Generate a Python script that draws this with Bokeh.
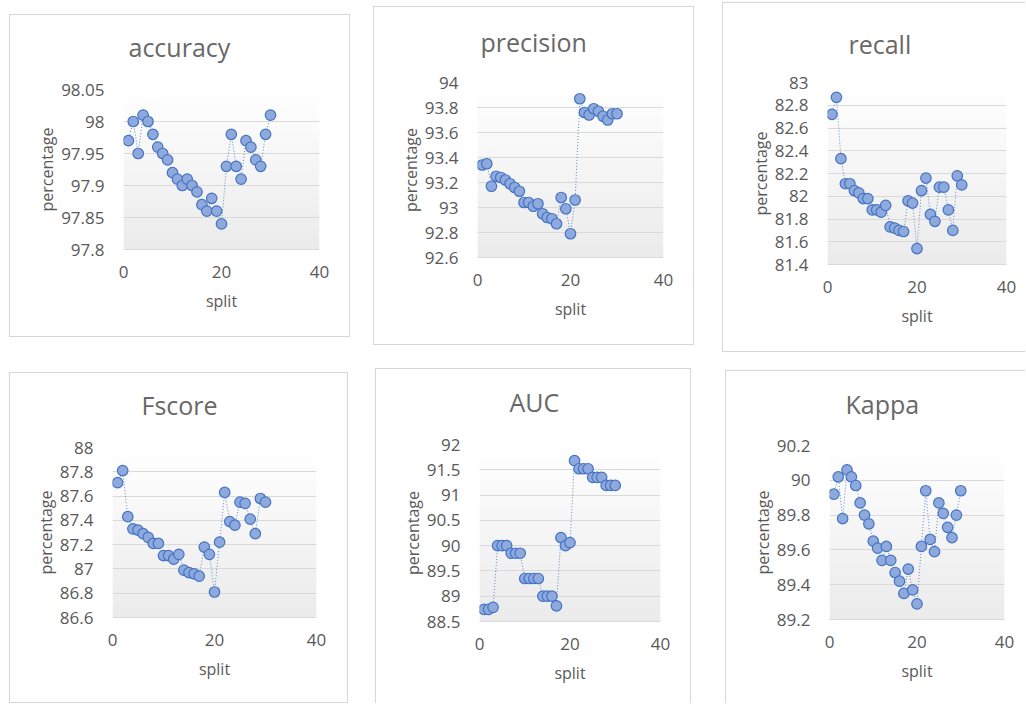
import numpy as np
from bokeh.plotting import figure
from bokeh.layouts import row, column, Spacer
from bokeh.models import Range1d, FixedTicker, CustomJSTickFormatter
from bokeh.embed import file_html
from bokeh.resources import INLINE

# ---------------- data ----------------
split = [1, 2, 3, 4, 5, 6, 7, 8, 9, 10, 11, 12, 13, 14, 15,
         16, 17, 18, 19, 20, 21, 22, 23, 24, 25, 26, 27, 28, 29, 30]

accuracy = [97.97, 98.00, 97.95, 98.01, 98.00, 97.98, 97.96, 97.95, 97.94, 97.92,
            97.91, 97.90, 97.91, 97.90, 97.89, 97.87, 97.86, 97.88, 97.86, 97.84,
            97.93, 97.98, 97.93, 97.91, 97.97, 97.96, 97.94, 97.93, 97.98, 98.01]
precision = [93.34, 93.35, 93.17, 93.25, 93.24, 93.22, 93.19, 93.16, 93.13, 93.04,
             93.04, 93.01, 93.03, 92.95, 92.92, 92.91, 92.87, 93.08, 92.99, 92.79,
             93.06, 93.87, 93.76, 93.74, 93.79, 93.77, 93.73, 93.70, 93.75, 93.75]
recall = [82.72, 82.87, 82.33, 82.11, 82.11, 82.05, 82.03, 81.98, 81.98, 81.88,
          81.88, 81.86, 81.92, 81.73, 81.72, 81.70, 81.69, 81.96, 81.94, 81.54,
          82.05, 82.16, 81.84, 81.78, 82.08, 82.08, 81.88, 81.70, 82.18, 82.10]
fscore = [87.71, 87.81, 87.43, 87.33, 87.32, 87.29, 87.26, 87.21, 87.21, 87.11,
          87.11, 87.08, 87.12, 86.99, 86.97, 86.96, 86.94, 87.18, 87.12, 86.81,
          87.22, 87.63, 87.39, 87.36, 87.55, 87.54, 87.41, 87.29, 87.58, 87.55]
auc = [88.74, 88.74, 88.78, 90.00, 90.00, 90.00, 89.85, 89.85, 89.85, 89.35,
       89.35, 89.35, 89.35, 89.00, 89.00, 89.00, 88.81, 90.16, 90.00, 90.06,
       91.68, 91.52, 91.52, 91.52, 91.35, 91.35, 91.35, 91.19, 91.19, 91.19]
kappa = [89.92, 90.02, 89.78, 90.06, 90.02, 89.97, 89.87, 89.80, 89.75, 89.65,
         89.61, 89.54, 89.62, 89.54, 89.47, 89.42, 89.35, 89.49, 89.37, 89.29,
         89.62, 89.94, 89.66, 89.59, 89.87, 89.81, 89.73, 89.67, 89.80, 89.94]

x_ticks = [0, 20, 40]
acc_ticks = [97.8, 97.85, 97.9, 97.95, 98.0, 98.05]
prec_ticks = [92.6, 92.8, 93.0, 93.2, 93.4, 93.6, 93.8, 94.0]
rec_ticks = [81.4, 81.6, 81.8, 82.0, 82.2, 82.4, 82.6, 82.8, 83.0]
f_ticks = [86.6, 86.8, 87.0, 87.2, 87.4, 87.6, 87.8, 88.0]
auc_ticks = [88.5, 89.0, 89.5, 90.0, 90.5, 91.0, 91.5, 92.0]
kappa_ticks = [89.2, 89.4, 89.6, 89.8, 90.0, 90.2]

FONT = "Open Sans"
TXT = "#595959"
BORDER = "#d6d6d6"
TITLE_BOX = 38      # layout height of a 25px title text box (without standoff)
TITLE_K = 21        # distance from top of text box to visual centre of the title


def gradient_image():
    n = 64
    img = np.empty((n, 1), dtype=np.uint32)
    view = img.view(dtype=np.uint8).reshape((n, 1, 4))
    for i in range(n):
        t = i / (n - 1)          # 0 = bottom, 1 = top
        c = int(round(235 + (255 - 235) * t))
        view[i, 0, :] = [c, c, c, 255]
    return img


def panel(title, values, yticks, box, frame, tcx, tcy, row_top, sides):
    """box = (X, Y, W, bottom) of the chart box in page px,
    frame = (left, right, top, bottom) of the plot area in page px,
    tcx/tcy = page position of the title's centre."""
    X, Y, W, B = box
    fl, fr, ft, fb = frame
    s = max(0, int(round(2 * (ft - tcy - (TITLE_K - TITLE_BOX)) - 2 * TITLE_BOX + 2 * (TITLE_BOX - TITLE_K))))
    # derived: centre = canvas_top + s/2 + K, with canvas_top = ft - (BOX + s)
    s = max(0, int(round(2 * (ft - tcy - TITLE_BOX + TITLE_K))))
    canvas_top = ft - (TITLE_BOX + s)
    if canvas_top < row_top:
        canvas_top = row_top
        s = ft - canvas_top - TITLE_BOX
    k = Y - canvas_top
    h = B - canvas_top
    ymin, ymax = yticks[0], yticks[-1]

    shadows = []
    if "t" in sides:
        if k > 0:
            shadows.append(f"inset 0 {k}px 0 0 #ffffff")
            shadows.append(f"inset 0 {k + 1}px 0 0 {BORDER}")
        else:
            shadows.append(f"inset 0 1px 0 0 {BORDER}")
    if "l" in sides:
        shadows.append(f"inset 1px 0 0 0 {BORDER}")
    if "r" in sides:
        shadows.append(f"inset -1px 0 0 0 {BORDER}")
    if "b" in sides:
        shadows.append(f"inset 0 -1px 0 0 {BORDER}")

    p = figure(width=W, height=h, output_backend="svg", toolbar_location=None,
               x_range=Range1d(x_ticks[0], x_ticks[-1]), y_range=Range1d(ymin, ymax),
               min_border_left=fl - X, min_border_right=X + W - fr,
               min_border_top=ft - canvas_top, min_border_bottom=B - fb,
               border_fill_color=None, background_fill_color=None,
               outline_line_color=None,
               styles={"box-shadow": ", ".join(shadows)})
    p.image_rgba(image=[gradient_image()], x=x_ticks[0], y=ymin,
                 dw=x_ticks[-1] - x_ticks[0], dh=ymax - ymin, level="image")
    p.line(split, values, line_color="#4472c4", line_width=1,
           line_dash="1 2", line_alpha=0.85)
    p.scatter(split, values, size=10.5, fill_color="#8eaadc",
              line_color="#4472c4", line_width=1.2)

    p.title.text = title
    p.title.text_font = FONT
    p.title.text_font_size = "25px"
    p.title.text_font_style = "normal"
    p.title.text_color = "#686868"
    p.title.align = "left"
    p.title.vertical_align = "top"
    p.title.offset = tcx - fl
    p.title.standoff = s

    p.xaxis.ticker = FixedTicker(ticks=x_ticks)
    p.yaxis.ticker = FixedTicker(ticks=yticks)
    p.yaxis.formatter = CustomJSTickFormatter(
        code="return String(parseFloat(tick.toFixed(2)));")
    for ax in (p.xaxis[0], p.yaxis[0]):
        ax.major_tick_line_color = None
        ax.minor_tick_line_color = None
        ax.major_tick_in = 0
        ax.major_tick_out = 0
        ax.major_label_text_font = FONT
        ax.major_label_text_font_size = "17px"
        ax.major_label_text_color = TXT
        ax.axis_label_text_font = FONT
        ax.axis_label_text_font_size = "16px"
        ax.axis_label_text_font_style = "normal"
        ax.axis_label_text_color = TXT
    p.xaxis.axis_label = "split"
    p.yaxis.axis_label = "percentage"
    p.xaxis.axis_line_color = "#d9d9d9"
    p.yaxis.axis_line_color = None
    p.xaxis.major_label_standoff = 16
    p.yaxis.major_label_standoff = 19
    p.xaxis.axis_label_standoff = 9
    p.yaxis.axis_label_standoff = 0
    p.xgrid.visible = False
    p.ygrid.grid_line_color = "#d9d9d9"
    p.ygrid.grid_line_width = 1
    return p, canvas_top


ROW2 = 352
p1, t1 = panel("accuracy", accuracy, acc_ticks, (9, 14, 341, 337),
               (123, 319, 89, 249), 128, 48, 0, "ltrb")
p2, t2 = panel("precision", precision, prec_ticks, (373, 6, 321, 345),
               (477, 663, 82, 257), 480, 42, 0, "ltrb")
p3, t3 = panel("recall", recall, rec_ticks, (722, 2, 303, 352),
               (827, 1006, 77, 265), 848, 35, 0, "ltb")
p4, t4 = panel("Fscore", fscore, f_ticks, (9, 372, 339, 703),
               (112, 316, 447, 617), 141, 406, ROW2, "ltrb")
p5, t5 = panel("AUC", auc, auc_ticks, (375, 368, 316, 703),
               (479, 660, 444, 621), 509, 403, ROW2, "ltr")
p6, t6 = panel("Kappa", kappa, kappa_ticks, (725, 370, 300, 703),
               (829, 1004, 445, 619), 845, 405, ROW2, "lt")


def place(fig, top, row_top):
    gap = top - row_top
    if gap > 0:
        return column(Spacer(width=1, height=gap), fig)
    return fig


row1 = row(Spacer(width=9, height=1), place(p1, t1, 0),
           Spacer(width=23, height=1), place(p2, t2, 0),
           Spacer(width=28, height=1), place(p3, t3, 0))
row2 = row(Spacer(width=9, height=1), place(p4, t4, ROW2),
           Spacer(width=27, height=1), place(p5, t5, ROW2),
           Spacer(width=34, height=1), place(p6, t6, ROW2))
layout = column(row1, row2)

open("out.html", "w").write(file_html(layout, INLINE))
